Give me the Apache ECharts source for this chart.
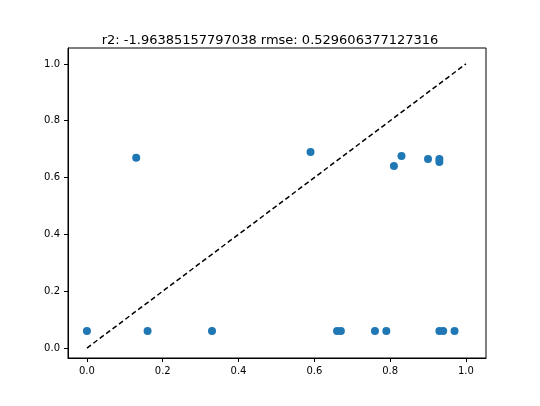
<!DOCTYPE html>
<html><head><meta charset="utf-8">
<script src="https://cdn.jsdelivr.net/npm/echarts@6/dist/echarts.min.js"></script>
<style>html,body{margin:0;padding:0;background:#fff}#c{width:540px;height:406px}</style>
</head><body><div id="c"></div>
<script>
const xs = [0.0,0.13,0.16,0.33,0.59,0.66,0.67,0.76,0.79,0.81,0.83,0.90,0.93,0.93,0.93,0.94,0.97];
const ys = [0.06,0.67,0.06,0.06,0.69,0.06,0.06,0.06,0.06,0.641,0.676,0.665,0.665,0.655,0.06,0.06,0.06];
const ticks = [0,0.2,0.4,0.6,0.8,1.0];
const titleText = 'r2: -1.96385157797038 rmse: 0.529606377127316';
const pts = xs.map((x,i)=>[x,ys[i]]);
const ax = (min,max)=>({type:'value',min,max,
  axisLine:{show:true,onZero:false,lineStyle:{color:'#000'}},
  axisTick:{show:true,customValues:ticks,length:4,inside:false,lineStyle:{color:'#000'}},
  axisLabel:{customValues:ticks,color:'#000',fontSize:10,formatter:v=>v.toFixed(1)},
  splitLine:{show:false}});
const ch = echarts.init(document.getElementById('c'));
ch.setOption({
  animation:false,
  title:{text:titleText,left:'center',top:29,textStyle:{fontSize:13,fontWeight:'normal',color:'#000',fontFamily:'DejaVu Sans'}},
  grid:{left:68,right:54,top:48,bottom:48,show:true,borderColor:'#000',borderWidth:1},
  textStyle:{fontFamily:'DejaVu Sans'},
  xAxis:ax(-0.05,1.053),
  yAxis:ax(-0.035,1.056),
  series:[
    {type:'line',data:[[0,0],[1,1]],symbol:'none',lineStyle:{color:'#000',type:[5,3],width:1.5}},
    {type:'scatter',data:pts,symbolSize:8,itemStyle:{color:'#1f77b4',opacity:1}}
  ]
});
</script></body></html>
